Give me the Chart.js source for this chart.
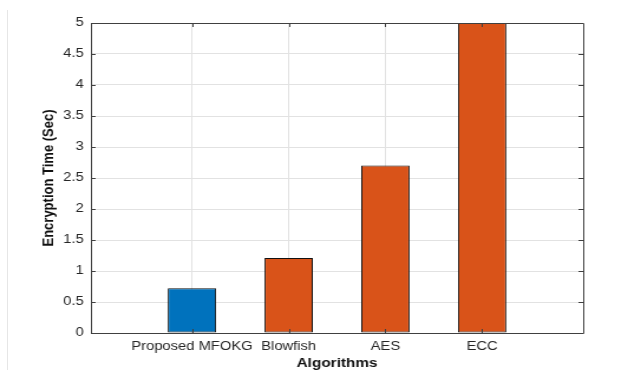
<!DOCTYPE html>
<html>
<head>
<meta charset="utf-8">
<script src="https://cdn.jsdelivr.net/npm/chart.js@4/dist/chart.umd.min.js"></script>
<style>
  html, body { margin: 0; padding: 0; background: #ffffff; }
  #wrap { position: relative; width: 641px; height: 370px; overflow: hidden; }
  #frame { position: absolute; left: 0; top: 0; width: 543px; height: 370px;
           transform: scaleX(1.1805); transform-origin: 0 0; }
  #edge { position: absolute; left: 7px; top: 10px; width: 1px; height: 360px; background: #e6e6e6; }
</style>
</head>
<body>
<div id="wrap">
  <div id="edge"></div>
  <div id="frame"><canvas id="chart" width="543" height="370"></canvas></div>
</div>
<script>
// Encryption time per algorithm (seconds)
const categories = ['Proposed MFOKG', 'Blowfish', 'AES', 'ECC'];
const encryptionTime = [0.72, 1.21, 2.7, 5];
const barColors = ['#0072BD', '#D95319', '#D95319', '#D95319'];
const yMin = 0;
const yMax = 5;
const yStep = 0.5;
// x limits around bar positions 1..4
const xMin = -0.045;
const xMax = 5.045;

const points = encryptionTime.map((v, i) => ({ x: i + 1, y: v }));

const AXIS = '#404040';
const GRID = '#e2e2e2';
const TEXT = '#262626';

// box around the axes with short inward tick marks on all four sides
const boxAxes = {
  id: 'boxAxes',
  afterDatasetsDraw(chart) {
    const { ctx, chartArea: a, scales: { x, y } } = chart;
    ctx.save();
    ctx.strokeStyle = AXIS;
    ctx.lineWidth = 1;
    ctx.beginPath();
    ctx.rect(Math.round(a.left) + 0.5, Math.round(a.top) + 0.5,
             Math.round(a.right - a.left), Math.round(a.bottom - a.top));
    ctx.stroke();
    ctx.beginPath();
    y.ticks.forEach(t => {
      const py = Math.round(y.getPixelForValue(t.value)) + 0.5;
      ctx.moveTo(a.left, py); ctx.lineTo(a.left + 4, py);
      ctx.moveTo(a.right, py); ctx.lineTo(a.right - 4, py);
    });
    x.ticks.forEach(t => {
      const px = Math.round(x.getPixelForValue(t.value)) + 0.5;
      ctx.moveTo(px, a.top); ctx.lineTo(px, a.top + 4);
      ctx.moveTo(px, a.bottom); ctx.lineTo(px, a.bottom - 4);
    });
    ctx.stroke();
    ctx.restore();
  }
};

new Chart(document.getElementById('chart'), {
  type: 'bar',
  data: {
    datasets: [{
      data: points,
      backgroundColor: barColors,
      borderColor: '#111111',
      borderWidth: 1,
      borderSkipped: false,
      categoryPercentage: 1,
      barPercentage: 0.5
    }]
  },
  options: {
    responsive: false,
    animation: false,
    devicePixelRatio: 1,
    layout: { padding: { left: 0, top: 23, right: 49, bottom: 0 } },
    plugins: { legend: { display: false }, tooltip: { enabled: false } },
    scales: {
      x: {
        type: 'linear',
        min: xMin, max: xMax,
        offset: false,
        grid: { color: GRID, drawTicks: false, offset: false },
        border: { display: false },
        afterBuildTicks(s) { s.ticks = categories.map((c, i) => ({ value: i + 1 })); },
        ticks: {
          autoSkip: false, maxRotation: 0, padding: 6, color: TEXT,
          font: { family: 'Liberation Sans, Arial, sans-serif', size: 12.5 },
          callback: v => categories[Math.round(v) - 1] || ''
        },
        title: {
          display: true, text: 'Algorithms', color: '#111111', padding: 0,
          font: { family: 'Liberation Sans, Arial, sans-serif', size: 13, weight: 'bold', lineHeight: 1 }
        },
        afterFit(s) { s.height = 37; }
      },
      y: {
        min: yMin, max: yMax,
        grid: { color: GRID, drawTicks: false },
        border: { display: false },
        ticks: {
          stepSize: yStep, padding: 6, color: TEXT,
          font: { family: 'Liberation Sans, Arial, sans-serif', size: 12.5 },
          callback: v => String(Number(v))
        },
        title: {
          display: true, text: 'Encryption Time (Sec)', color: '#111111',
          padding: { top: 35, bottom: 0 },
          font: { family: 'Liberation Sans, Arial, sans-serif', size: 13, weight: 'bold', lineHeight: 1 }
        },
        afterFit(s) { s.width = 77; }
      }
    }
  },
  plugins: [boxAxes]
});
</script>
</body>
</html>
